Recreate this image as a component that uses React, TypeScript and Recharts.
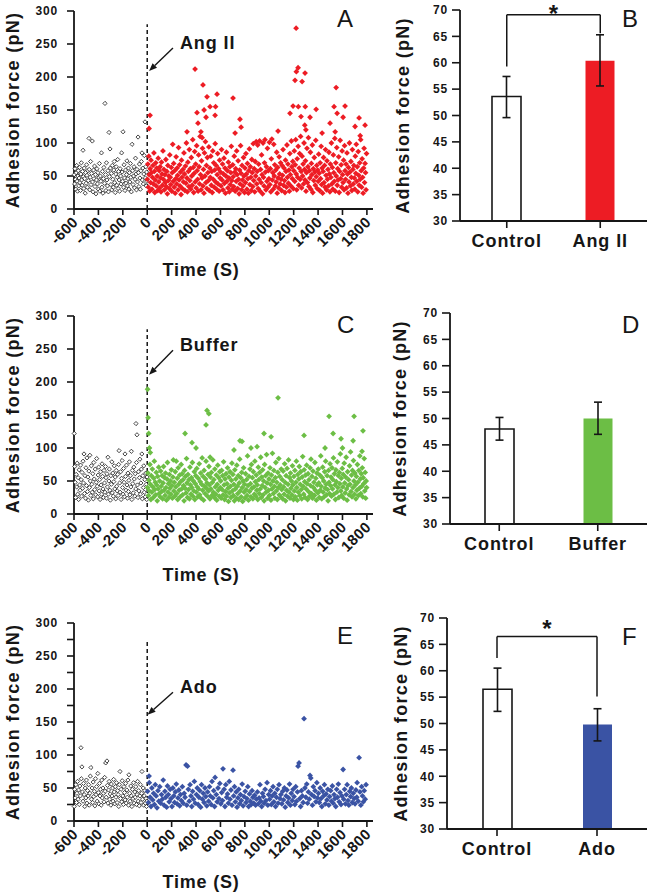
import {
  Bar,
  BarChart,
  Cell,
  ErrorBar,
  Label,
  ReferenceLine,
  Scatter,
  ScatterChart,
  XAxis,
  YAxis,
} from "recharts";

const FONT = '"Liberation Sans", Arial, sans-serif';
const INK = "#161616";

const timeTicks = [-600, -400, -200, 0, 200, 400, 600, 800, 1000, 1200, 1400, 1600, 1800];
const forceTicks = [0, 50, 100, 150, 200, 250, 300];
const forceTicksMinor = [0, 25, 50, 75, 100, 125, 150, 175, 200, 225, 250, 275, 300];
const barTicks = [30, 35, 40, 45, 50, 55, 60, 65, 70];

// ---- panel A: before / after Ang II (time s, force pN)
const angIIBefore: [number, number][] = [
  [-598,52],[-595,38],[-592,61],[-588,45],[-585,30],[-582,55],[-578,66],[-575,42],[-571,27],[-568,50],[-565,58],[-561,35],[-558,47],[-554,63],[-551,40],[-547,28],[-544,53],[-540,70],[-537,44],[-533,36],[-530,57],[-526,89],[-523,49],[-519,31],[-516,62],[-512,46],[-508,24],[-505,55],[-501,39],[-497,67],[-494,51],[-490,33],[-486,58],[-483,43],[-477,107],[-475,60],[-471,29],[-468,48],[-464,72],[-460,37],[-456,54],[-450,103],[-448,41],[-444,26],[-440,59],[-436,46],[-432,65],[-428,34],[-424,52],[-420,23],[-416,44],[-412,61],[-408,38],[-404,55],[-400,30],[-396,48],[-392,69],[-388,27],[-384,50],[-380,42],[-375,85],[-371,33],[-367,57],[-363,24],[-359,46],[-355,63],[-350,39],[-346,160],[-342,52],[-338,28],[-334,70],[-330,44],[-326,35],[-322,58],[-318,26],[-313,116],[-310,49],[-305,91],[-302,62],[-298,37],[-294,54],[-290,29],[-286,66],[-282,45],[-278,33],[-274,59],[-270,72],[-266,40],[-262,25],[-258,53],[-254,64],[-250,36],[-246,48],[-242,75],[-238,31],[-234,57],[-230,44],[-226,27],[-222,61],[-218,50],[-214,38],[-210,85],[-206,56],[-202,42],[-198,117],[-194,33],[-190,67],[-186,47],[-182,28],[-178,59],[-174,39],[-170,52],[-166,73],[-162,35],[-158,46],[-154,62],[-150,30],[-146,55],[-142,41],[-138,69],[-134,48],[-130,26],[-124,98],[-120,58],[-116,37],[-112,50],[-108,64],[-104,32],[-100,45],[-96,77],[-92,53],[-88,29],[-84,60],[-80,41],[-75,109],[-72,55],[-68,34],[-64,68],[-60,47],[-56,30],[-52,58],[-48,72],[-43,85],[-40,44],[-36,62],[-32,38],[-28,53],[-24,81],[-18,132],[-15,47],[-12,64],[-8,35],[-5,56],[-2,42],
];

const angIIAfter: [number, number][] = [
  [1,45],[5,68],[9,33],[13,80],[16,52],[20,27],[24,61],[28,40],[31,74],[35,55],[39,30],[43,48],[47,66],[51,38],[55,85],[58,57],[62,25],[66,44],[70,70],[74,35],[78,62],[82,50],[86,28],[90,77],[94,41],[98,58],
  [102,32],[106,64],[110,47],[113,26],[117,71],[121,53],[125,36],[129,88],[133,45],[137,60],[141,29],[145,52],[149,40],[153,75],[157,34],[161,57],[165,23],[169,66],[173,43],[177,50],[181,31],[185,82],[189,48],[193,37],[197,63],
  [201,27],[205,55],[209,98],[213,42],[217,69],[221,33],[225,58],[229,24],[233,46],[237,79],[241,38],[245,62],[249,51],[253,29],[257,93],[261,44],[265,67],[269,35],[273,56],[277,22],[281,74],[285,48],[289,31],[293,60],[297,41],
  [301,85],[305,53],[309,28],[313,65],[317,39],[321,100],[325,47],[329,26],[333,71],[337,57],[341,34],[345,90],[349,43],[353,61],[357,30],[361,78],[365,50],[369,36],[373,105],[377,63],[381,25],[385,54],[389,87],[393,41],[397,68],
  [401,32],[405,96],[409,58],[413,45],[417,27],[421,82],[425,64],[429,38],[433,110],[437,52],[441,29],[445,73],[449,47],[453,92],[457,35],[461,60],[465,24],[469,85],[473,50],[477,102],[481,40],[485,66],[489,31],[493,78],[497,55],
  [501,43],[505,94],[509,28],[513,62],[517,48],[521,80],[525,36],[529,57],[533,25],[537,88],[541,45],[545,70],[549,33],[553,59],[557,99],[561,41],[565,66],[569,30],[573,52],[577,84],[581,38],[585,61],[589,27],[593,74],[597,47],
  [601,56],[605,35],[609,90],[613,44],[617,68],[621,29],[625,53],[629,77],[633,39],[637,62],[641,24],[645,50],[649,86],[653,42],[657,58],[661,32],[665,71],[669,47],[673,26],[677,64],[681,37],[685,55],[689,95],[693,43],[697,30],
  [701,67],[705,49],[709,34],[713,80],[717,56],[721,27],[725,61],[729,42],[733,88],[737,52],[741,31],[745,73],[749,45],[753,23],[757,59],[761,38],[765,96],[769,54],[773,29],[777,66],[781,44],[785,35],[789,78],[793,50],[797,25],
  [801,62],[805,40],[809,84],[813,53],[817,30],[821,69],[825,46],[829,24],[833,58],[837,91],[841,37],[845,64],[849,48],[853,28],[857,75],[861,55],[865,34],[869,99],[873,43],[877,61],[881,26],[885,72],[889,50],[893,102],[897,38],
  [901,57],[905,97],[909,31],[913,68],[917,45],[921,103],[925,27],[929,60],[933,40],[937,82],[941,52],[945,23],[949,100],[953,48],[957,35],[961,70],[965,105],[969,56],[973,29],[977,64],[981,42],[985,92],[989,33],[993,58],[997,46],
  [1001,101],[1005,37],[1009,61],[1013,26],[1017,76],[1021,106],[1025,44],[1029,55],[1033,30],[1037,98],[1041,50],[1045,67],[1049,35],[1053,59],[1057,41],[1061,86],[1065,24],[1069,63],[1073,47],[1077,32],[1081,79],[1085,53],[1089,38],[1093,70],[1097,45],
  [1101,28],[1105,66],[1109,51],[1113,90],[1117,36],[1121,62],[1125,43],[1129,25],[1133,74],[1137,57],[1141,33],[1145,97],[1149,48],[1153,68],[1157,39],[1161,59],[1165,27],[1169,84],[1173,52],[1177,35],[1181,103],[1185,64],[1189,46],[1193,72],[1197,31],
  [1201,58],[1205,88],[1209,42],[1213,67],[1217,105],[1221,53],[1225,29],[1229,76],[1233,48],[1237,95],[1241,36],[1245,62],[1249,84],[1253,45],[1257,110],[1261,57],[1265,32],[1269,80],[1273,50],[1277,68],[1281,38],[1285,100],[1289,60],[1293,44],[1297,73],
  [1301,27],[1305,55],[1309,92],[1313,40],[1317,64],[1321,108],[1325,34],[1329,58],[1333,47],[1337,86],[1341,30],[1345,69],[1349,52],[1353,97],[1357,25],[1361,61],[1365,43],[1369,78],[1373,56],[1377,36],[1381,104],[1385,49],[1389,66],[1393,31],[1397,59],
  [1401,42],[1405,83],[1409,54],[1413,28],[1417,70],[1421,46],[1425,95],[1429,37],[1433,62],[1437,24],[1441,57],[1445,78],[1449,40],[1453,66],[1457,33],[1461,90],[1465,51],[1469,29],[1473,73],[1477,45],[1481,60],[1485,35],[1489,86],[1493,53],[1497,26],
  [1501,68],[1505,48],[1509,100],[1513,38],[1517,63],[1521,30],[1525,82],[1529,55],[1533,42],[1537,107],[1541,27],[1545,70],[1549,50],[1553,93],[1557,36],[1561,61],[1565,44],[1569,79],[1573,25],[1577,57],[1581,104],[1585,46],[1589,67],[1593,33],[1597,88],
  [1601,52],[1605,40],[1609,74],[1613,29],[1617,96],[1621,58],[1625,45],[1629,68],[1633,32],[1637,85],[1641,53],[1645,24],[1649,63],[1653,41],[1657,100],[1661,56],[1665,35],[1669,72],[1673,48],[1677,28],[1681,90],[1685,60],[1689,38],[1693,66],[1697,47],
  [1701,30],[1705,80],[1709,54],[1713,98],[1717,42],[1721,64],[1725,26],[1729,87],[1733,51],[1737,36],[1741,70],[1745,45],[1749,105],[1753,58],[1757,33],[1761,76],[1765,48],[1769,24],[1773,62],[1777,92],[1781,40],[1785,69],[1789,55],[1793,29],[1797,84],
  // high readings
  [15,122],[23,142],[326,117],[392,212],[408,146],[416,130],[440,117],[450,108],[457,188],[466,150],[482,139],[490,170],[515,155],[556,142],[560,155],[572,174],[703,168],[720,115],[760,136],[769,124],[1072,118],[1170,145],[1195,156],[1211,195],[1220,274],[1222,208],[1236,214],[1238,155],[1260,140],[1269,193],[1293,206],[1295,155],[1291,127],[1300,120],[1334,139],[1384,151],[1433,115],[1498,130],[1531,155],[1540,117],[1548,184],[1556,145],[1605,139],[1621,156],[1703,125],[1736,138],[1745,111],[1785,127],
];

// ---- panel C: before / after buffer
const bufferBefore: [number, number][] = [
  [-598,122],[-594,72],[-590,48],[-586,25],[-582,60],[-578,41],[-574,77],[-570,30],[-566,55],[-562,22],[-558,67],[-554,44],[-550,36],[-546,74],[-542,52],[-538,27],[-534,63],[-530,39],[-526,80],[-522,47],[-518,91],[-514,31],[-510,58],[-506,24],[-502,70],[-498,43],[-494,85],[-490,34],[-486,56],[-482,21],[-478,65],[-474,40],[-470,89],[-466,50],[-462,28],[-458,73],[-454,45],[-450,33],[-446,61],[-442,23],[-438,78],[-434,53],[-430,37],[-426,68],[-422,29],[-418,48],[-414,84],[-410,42],[-406,26],[-402,59],[-398,71],[-394,35],[-390,52],[-386,22],[-382,64],[-378,44],[-374,30],[-370,76],[-366,57],[-362,38],[-358,25],[-354,66],[-350,47],[-346,33],[-342,72],[-338,55],[-334,24],[-330,61],[-326,41],[-322,86],[-318,30],[-314,50],[-310,68],[-306,36],[-302,21],[-298,58],[-294,45],[-290,79],[-286,32],[-282,62],[-278,27],[-274,49],[-270,73],[-266,38],[-262,56],[-258,23],[-254,66],[-250,42],[-246,35],[-242,60],[-238,28],[-234,75],[-231,96],[-226,47],[-222,33],[-218,64],[-214,22],[-210,54],[-206,81],[-202,40],[-198,30],[-194,69],[-190,48],[-186,26],[-182,91],[-178,57],[-174,36],[-170,74],[-166,44],[-162,24],[-158,62],[-154,34],[-150,51],[-146,79],[-142,29],[-138,58],[-134,41],[-130,95],[-126,22],[-122,66],[-118,46],[-114,32],[-110,71],[-106,53],[-102,27],[-98,61],[-94,38],[-92,137],[-88,78],[-84,120],[-80,44],[-76,25],[-72,64],[-68,35],[-64,55],[-60,83],[-56,30],[-52,47],[-48,68],[-44,91],[-40,23],[-36,58],[-32,40],[-28,73],[-24,33],[-20,52],[-16,26],[-12,62],[-8,45],[-4,22],[-1,56],
];

const bufferAfter: [number, number][] = [
  [2,40],[6,62],[10,28],[14,51],[18,35],[22,75],[26,45],[30,22],[34,58],[38,33],[42,68],[46,41],[50,25],[54,54],[58,80],[62,37],[66,48],[70,29],[74,63],[78,44],[82,20],[86,57],[90,38],[94,71],[98,31],
  [102,50],[106,26],[110,65],[114,42],[118,34],[122,58],[126,23],[130,47],[134,72],[138,36],[142,55],[146,28],[150,62],[154,40],[158,21],[162,53],[166,78],[170,33],[174,46],[178,25],[182,60],[186,39],[190,50],[194,30],[198,67],
  [202,43],[206,24],[210,56],[214,82],[218,35],[222,48],[226,27],[230,64],[234,41],[238,80],[242,31],[246,54],[250,22],[254,70],[258,45],[262,36],[266,59],[270,26],[274,49],[278,75],[282,38],[286,61],[290,29],[294,52],[298,43],
  [302,20],[306,66],[310,39],[314,57],[318,32],[322,84],[326,47],[330,25],[334,60],[338,37],[342,52],[346,23],[350,71],[354,44],[358,30],[362,55],[366,40],[370,78],[374,27],[378,50],[382,35],[386,64],[390,22],[394,46],[398,58],
  [402,33],[406,69],[410,41],[414,26],[418,54],[422,38],[426,76],[430,29],[434,49],[438,62],[442,24],[446,45],[450,85],[454,36],[458,57],[462,21],[466,66],[470,42],[474,31],[478,53],[482,80],[486,39],[490,47],[494,27],[498,60],
  [502,35],[506,72],[510,44],[514,23],[518,56],[522,38],[526,63],[530,28],[534,48],[538,82],[542,33],[546,52],[550,25],[554,68],[558,41],[562,30],[566,59],[570,21],[574,45],[578,74],[582,36],[586,55],[590,27],[594,64],[598,40],
  [602,50],[606,24],[610,66],[614,37],[618,58],[622,29],[626,79],[630,44],[634,22],[638,53],[642,34],[646,61],[650,27],[654,46],[658,70],[662,39],[666,19],[670,56],[674,32],[678,64],[682,42],[686,25],[690,51],[694,77],[698,35],
  [702,60],[706,28],[710,45],[714,20],[718,67],[722,38],[726,53],[730,24],[734,74],[738,42],[742,31],[746,58],[750,22],[754,47],[758,83],[762,35],[766,55],[770,26],[774,63],[778,40],[782,19],[786,50],[790,70],[794,33],[798,45],
  [802,24],[806,61],[810,37],[814,52],[818,28],[822,88],[826,43],[830,21],[834,57],[838,34],[842,68],[846,46],[850,26],[854,75],[858,39],[862,55],[866,23],[870,64],[874,41],[878,30],[882,80],[886,49],[890,27],[894,59],[898,36],
  [902,44],[906,22],[910,71],[914,52],[918,31],[922,63],[926,38],[930,86],[934,25],[938,56],[942,43],[946,67],[950,29],[954,50],[958,20],[962,75],[966,40],[970,58],[974,33],[978,90],[982,47],[986,24],[990,62],[994,36],[998,53],
  [1002,28],[1006,70],[1010,45],[1014,21],[1018,59],[1022,38],[1026,92],[1030,50],[1034,31],[1038,66],[1042,42],[1046,24],[1050,55],[1054,78],[1058,35],[1062,48],[1066,22],[1070,63],[1074,40],[1078,84],[1082,29],[1086,57],[1090,44],[1094,26],[1098,68],
  [1102,37],[1106,52],[1110,23],[1114,65],[1118,41],[1122,30],[1126,76],[1130,48],[1134,20],[1138,58],[1142,36],[1146,69],[1150,27],[1154,45],[1158,82],[1162,33],[1166,55],[1170,24],[1174,62],[1178,39],[1182,50],[1186,29],[1190,73],[1194,44],[1198,22],
  [1202,57],[1206,35],[1210,66],[1214,26],[1218,48],[1222,80],[1226,40],[1230,21],[1234,60],[1238,33],[1242,53],[1246,72],[1250,28],[1254,45],[1258,64],[1262,37],[1266,23],[1270,56],[1274,87],[1278,42],[1282,30],[1286,67],[1290,49],[1294,25],[1298,59],
  [1302,38],[1306,74],[1310,46],[1314,22],[1318,61],[1322,34],[1326,52],[1330,27],[1334,70],[1338,43],[1342,83],[1346,31],[1350,57],[1354,24],[1358,65],[1362,40],[1366,48],[1370,28],[1374,78],[1378,36],[1382,54],[1386,21],[1390,62],[1394,44],[1398,32],
  [1402,68],[1406,47],[1410,25],[1414,59],[1418,36],[1422,88],[1426,42],[1430,23],[1434,55],[1438,71],[1442,33],[1446,50],[1450,26],[1454,64],[1458,39],[1462,80],[1466,45],[1470,29],[1474,58],[1478,37],[1482,20],[1486,66],[1490,48],[1494,31],[1498,76],
  [1502,43],[1506,56],[1510,27],[1514,70],[1518,38],[1522,52],[1526,85],[1530,30],[1534,61],[1538,44],[1542,22],[1546,67],[1550,49],[1554,33],[1558,79],[1562,40],[1566,58],[1570,25],[1574,63],[1578,46],[1582,91],[1586,35],[1590,54],[1594,28],[1598,69],
  [1602,41],[1606,60],[1610,24],[1614,77],[1618,47],[1622,32],[1626,56],[1630,86],[1634,38],[1638,21],[1642,64],[1646,43],[1650,52],[1654,29],[1658,73],[1662,45],[1666,94],[1670,34],[1674,59],[1678,26],[1682,66],[1686,40],[1690,81],[1694,50],[1698,30],
  [1702,62],[1706,44],[1710,23],[1714,57],[1718,36],[1722,75],[1726,48],[1730,28],[1734,66],[1738,39],[1742,88],[1746,53],[1750,31],[1754,61],[1758,42],[1762,70],[1766,26],[1770,55],[1774,46],[1778,84],[1782,35],[1786,63],[1790,24],[1794,50],[1798,40],
  // high readings
  [3,189],[7,146],[12,122],[18,100],[25,93],[310,122],[367,108],[400,100],[482,135],[490,157],[505,152],[515,86],[711,97],[760,111],[777,110],[850,100],[900,102],[957,122],[1015,117],[1072,176],[1285,119],[1457,100],[1490,148],[1523,122],[1588,114],[1600,100],[1687,111],[1695,148],[1768,126],[1760,95],
];

// ---- panel E: before / after Ado
const adoBefore: [number, number][] = [
  [-598,22],[-594,48],[-590,35],[-585,55],[-580,28],[-576,42],[-571,60],[-566,33],[-562,47],[-557,25],[-552,53],[-548,38],[-543,111],[-540,64],[-535,82],[-531,44],[-526,30],[-522,57],[-517,40],[-512,22],[-508,50],[-503,35],[-498,62],[-494,27],[-489,46],[-484,38],[-480,55],[-475,24],[-470,42],[-466,68],[-461,81],[-457,33],[-452,50],[-447,28],[-443,59],[-438,37],[-433,45],[-429,23],[-424,64],[-419,40],[-415,52],[-410,30],[-405,72],[-401,43],[-396,26],[-391,57],[-387,38],[-382,48],[-377,24],[-373,62],[-368,35],[-363,50],[-359,42],[-354,29],[-349,66],[-345,45],[-340,88],[-336,36],[-330,91],[-326,54],[-322,27],[-317,47],[-312,60],[-308,33],[-303,41],[-298,24],[-294,56],[-289,38],[-284,50],[-280,30],[-275,63],[-270,44],[-266,26],[-261,52],[-256,36],[-252,58],[-247,28],[-242,46],[-238,40],[-233,22],[-228,55],[-223,75],[-219,34],[-214,48],[-209,29],[-205,61],[-200,38],[-195,25],[-191,52],[-186,43],[-181,32],[-177,57],[-172,27],[-167,47],[-163,36],[-158,62],[-153,24],[-150,70],[-144,42],[-140,30],[-135,53],[-130,38],[-126,22],[-121,48],[-116,34],[-112,58],[-107,27],[-102,44],[-98,36],[-93,52],[-88,25],[-84,40],[-79,60],[-74,30],[-70,46],[-65,23],[-60,38],[-56,55],[-51,28],[-46,42],[-43,75],[-38,33],[-33,50],[-29,24],[-24,38],[-19,46],[-15,27],[-10,34],[-6,22],[-2,30],
];

const adoAfter: [number, number][] = [
  [3,45],[10,28],[15,68],[17,58],[24,36],[31,22],[38,50],[45,32],[52,42],[59,25],[66,55],[73,38],[80,20],[88,46],[95,30],
  [103,52],[110,27],[117,40],[124,33],[131,62],[138,24],[145,45],[152,36],[159,21],[166,53],[173,40],[180,29],[188,48],[195,34],
  [203,22],[210,50],[217,38],[224,28],[231,44],[238,56],[245,26],[252,35],[259,47],[266,23],[273,40],[280,31],[288,52],[295,27],
  [303,42],[310,36],[318,85],[324,24],[330,83],[337,48],[344,30],[351,55],[358,38],[365,22],[372,45],[379,33],[386,60],[393,27],
  [403,40],[410,50],[417,25],[424,36],[431,46],[438,21],[445,55],[452,33],[459,42],[466,28],[473,50],[480,37],[488,23],[495,44],
  [503,30],[510,52],[517,38],[524,25],[531,60],[538,35],[545,46],[552,22],[556,66],[566,40],[573,29],[580,50],[588,34],[595,57],
  [603,26],[610,43],[617,31],[621,79],[630,48],[637,22],[644,55],[651,36],[658,41],[665,27],[672,60],[679,33],[686,47],[695,24],
  [703,77],[708,38],[715,52],[722,29],[729,44],[736,21],[743,35],[750,48],[757,26],[764,40],[771,31],[778,56],[786,23],[793,37],
  [803,45],[810,28],[817,34],[824,52],[831,22],[838,41],[845,30],[852,25],[859,46],[866,36],[873,27],[880,39],[888,24],[895,33],
  [903,44],[910,26],[917,35],[924,55],[931,30],[938,22],[945,42],[952,37],[959,27],[966,48],[973,31],[982,58],[988,24],[995,40],
  [1003,33],[1010,46],[1017,25],[1024,38],[1031,52],[1038,29],[1045,42],[1052,22],[1059,36],[1066,48],[1073,27],[1080,55],[1088,34],[1095,40],
  [1103,26],[1110,45],[1117,32],[1124,50],[1131,21],[1138,38],[1145,47],[1152,28],[1159,35],[1166,56],[1173,24],[1180,42],[1188,31],[1195,48],
  [1203,37],[1210,25],[1217,52],[1224,30],[1231,44],[1236,83],[1244,88],[1250,34],[1257,22],[1264,46],[1271,38],[1278,28],[1285,155],[1292,50],
  [1300,36],[1307,56],[1314,27],[1321,44],[1328,33],[1334,69],[1340,65],[1347,40],[1354,24],[1361,52],[1368,37],[1375,46],[1382,29],[1390,58],[1396,35],
  [1403,42],[1410,28],[1417,50],[1424,34],[1431,22],[1438,45],[1445,38],[1452,55],[1459,26],[1466,41],[1473,32],[1480,48],[1488,24],[1495,37],
  [1503,46],[1510,30],[1517,53],[1524,27],[1531,40],[1538,34],[1545,22],[1552,48],[1559,36],[1566,56],[1573,29],[1580,43],[1588,25],[1595,38],
  [1605,78],[1610,33],[1617,48],[1624,26],[1631,40],[1638,55],[1645,31],[1652,24],[1659,45],[1666,37],[1673,50],[1680,28],[1688,42],[1695,34],
  [1703,26],[1710,47],[1717,36],[1720,58],[1729,30],[1736,96],[1743,44],[1750,24],[1757,52],[1764,38],[1771,29],[1778,46],[1786,33],[1793,55],
];

// ---- bar panels: mean and [down, up] error
const angIIGroups = ["Control", "Ang II"];
const angIIMeans = [53.6, 60.4];
const angIIErrors: [number, number][] = [[4.0, 3.8], [4.8, 4.9]];

const bufferGroups = ["Control", "Buffer"];
const bufferMeans = [48.0, 50.0];
const bufferErrors: [number, number][] = [[2.1, 2.2], [3.0, 3.1]];

const adoGroups = ["Control", "Ado"];
const adoMeans = [56.5, 49.8];
const adoErrors: [number, number][] = [[4.2, 4.0], [3.1, 3.0]];

// significance brackets: [left leg start, top, right leg end]
const angIIBracket = [59.3, 69.1, 65.6];
const adoBracket = [62.4, 66.5, 55.1];

const RED = "#ED1C24";
const GREEN = "#6CBE45";
const BLUE = "#3A53A4";

const bold = { fontFamily: FONT, fontWeight: 700, fill: INK } as const;

function toPoints(rows: [number, number][]) {
  return rows.map(([t, f]) => ({ t, f }));
}

const filledDiamond = (color: string) => (p: any) => {
  const r = 2.9;
  return (
    <polygon
      points={`${p.cx},${p.cy - r} ${p.cx + r},${p.cy} ${p.cx},${p.cy + r} ${p.cx - r},${p.cy}`}
      fill={color}
    />
  );
};

const openDiamond = (p: any) => {
  const r = 2.1;
  return (
    <polygon
      points={`${p.cx},${p.cy - r} ${p.cx + r},${p.cy} ${p.cx},${p.cy + r} ${p.cx - r},${p.cy}`}
      fill="#fff"
      stroke={INK}
      strokeWidth={0.8}
    />
  );
};

function TimeTick({ x, y, payload }: any) {
  const ax = x + 5;
  const ay = y + 6;
  return (
    <text
      x={ax}
      y={ay}
      transform={`rotate(-45 ${ax} ${ay})`}
      textAnchor="end"
      fontSize={15}
      style={{ letterSpacing: 0.4 }}
      {...bold}
    >
      {payload.value}
    </text>
  );
}

const ValueTick =
  (showEvery: number) =>
  ({ x, y, payload }: any) =>
    payload.value % showEvery === 0 ? (
      <text x={x} y={y} dy="0.36em" textAnchor="end" fontSize={12} style={{ letterSpacing: 0.8 }} {...bold}>
        {payload.value}
      </text>
    ) : (
      <g />
    );

function GroupTick({ x, y, payload }: any) {
  return (
    <text x={x} y={y + 17} textAnchor="middle" fontSize={18} style={{ letterSpacing: 0.9 }} {...bold}>
      {payload.value}
    </text>
  );
}

const forceLabel = (dx: number) => (props: any) => {
  const vb = props.viewBox ?? { x: 0, y: 0, width: 0, height: 0 };
  const x = vb.x + dx;
  const y = vb.y + vb.height / 2;
  return (
    <text
      x={x}
      y={y}
      transform={`rotate(-90 ${x} ${y})`}
      textAnchor="middle"
      fontSize={18}
      style={{ letterSpacing: 1.3 }}
      {...bold}
    >
      Adhesion force (pN)
    </text>
  );
};

const timeLabel = (props: any) => {
  const vb = props.viewBox ?? { x: 0, y: 0, width: 0, height: 0 };
  return (
    <text x={vb.x + 127} y={vb.y + 67} textAnchor="middle" fontSize={18} style={{ letterSpacing: 0.8 }} {...bold}>
      Time (S)
    </text>
  );
};

const arrowWithText = (text: string) => (p: any) => {
  const { x1, y1, x2, y2 } = p;
  const a = Math.atan2(y2 - y1, x2 - x1);
  const len = 8;
  const half = 3.2;
  const bx = x2 - len * Math.cos(a);
  const by = y2 - len * Math.sin(a);
  const nx = -Math.sin(a) * half;
  const ny = Math.cos(a) * half;
  return (
    <g>
      <line x1={x1} y1={y1} x2={bx} y2={by} stroke={INK} strokeWidth={1.4} />
      <polygon points={`${x2},${y2} ${bx + nx},${by + ny} ${bx - nx},${by - ny}`} fill={INK} />
      <text x={x1 + 7} y={y1 + 1} fontSize={18} style={{ letterSpacing: 0.9 }} {...bold}>
        {text}
      </text>
    </g>
  );
};

const starLine = (dy: number) => (p: any) => (
  <g>
    <line x1={p.x1} y1={p.y1} x2={p.x2} y2={p.y2} stroke={INK} strokeWidth={1.5} />
    <text x={(p.x1 + p.x2) / 2} y={p.y1 + dy} textAnchor="middle" fontSize={24} {...bold}>
      *
    </text>
  </g>
);

interface ScatterPanelProps {
  top: number;
  before: [number, number][];
  after: [number, number][];
  color: string;
  name: string;
  arrowFrom: [number, number];
  arrowTo: [number, number];
  dashTop: number;
  minor?: boolean;
}

function ScatterPanel({ top, before, after, color, name, arrowFrom, arrowTo, dashTop, minor }: ScatterPanelProps) {
  return (
    <div style={{ position: "absolute", left: 0, top }}>
      <ScatterChart width={380} height={290} margin={{ top: 11, right: 7, bottom: 11, left: 14 }}>
        <XAxis
          type="number"
          dataKey="t"
          domain={[-600, 1850]}
          ticks={timeTicks}
          interval={0}
          height={70}
          tickSize={6}
          tick={<TimeTick />}
          axisLine={{ stroke: INK, strokeWidth: 1.8 }}
          tickLine={{ stroke: INK, strokeWidth: 1.6 }}
        >
          <Label content={timeLabel} />
        </XAxis>
        <YAxis
          type="number"
          dataKey="f"
          domain={[0, 300]}
          ticks={minor ? forceTicksMinor : forceTicks}
          interval={0}
          width={60}
          tickSize={7}
          tickMargin={9}
          tick={ValueTick(50)}
          axisLine={{ stroke: INK, strokeWidth: 1.8 }}
          tickLine={{ stroke: INK, strokeWidth: 1.6 }}
        >
          <Label content={forceLabel(5)} />
        </YAxis>
        <Scatter data={toPoints(before)} shape={openDiamond} isAnimationActive={false} />
        <Scatter data={toPoints(after)} shape={filledDiamond(color)} isAnimationActive={false} />
        <ReferenceLine
          segment={[{ x: 0, y: 0 }, { x: 0, y: dashTop }]}
          stroke={INK}
          strokeWidth={1.5}
          strokeDasharray="4 3"
        />
        <ReferenceLine
          segment={[
            { x: arrowFrom[0], y: arrowFrom[1] },
            { x: arrowTo[0], y: arrowTo[1] },
          ]}
          shape={arrowWithText(name)}
        />
      </ScatterChart>
    </div>
  );
}

interface BarPanelProps {
  top: number;
  axisWidth: number;
  labelDx: number;
  groups: string[];
  means: number[];
  errors: [number, number][];
  color: string;
  bracket?: number[];
  starDy?: number;
}

function BarPanel({ top, axisWidth, labelDx, groups, means, errors, color, bracket, starDy = 0 }: BarPanelProps) {
  const rows = groups.map((name, i) => ({ name, mean: means[i], err: errors[i] }));
  return (
    <div style={{ position: "absolute", left: 360, top }}>
      <BarChart width={287} height={290} data={rows} margin={{ top: 10, right: 0, bottom: 0, left: 0 }}>
        <XAxis
          dataKey="name"
          height={69}
          tickSize={7}
          tick={<GroupTick />}
          axisLine={{ stroke: INK, strokeWidth: 1.8 }}
          tickLine={{ stroke: INK, strokeWidth: 1.6 }}
        />
        <YAxis
          type="number"
          domain={[30, 70]}
          ticks={barTicks}
          interval={0}
          allowDataOverflow
          width={axisWidth}
          tickSize={8}
          tickMargin={4}
          tick={ValueTick(5)}
          axisLine={{ stroke: INK, strokeWidth: 1.8 }}
          tickLine={{ stroke: INK, strokeWidth: 1.6 }}
        >
          <Label content={forceLabel(labelDx)} />
        </YAxis>
        <Bar dataKey="mean" barSize={29} isAnimationActive={false}>
          {rows.map((r, i) => (
            <Cell
              key={r.name}
              fill={i === 0 ? "#ffffff" : color}
              stroke={i === 0 ? INK : "none"}
              strokeWidth={i === 0 ? 1.6 : 0}
            />
          ))}
          <ErrorBar dataKey="err" width={4} stroke={INK} strokeWidth={1.6} isAnimationActive={false} />
        </Bar>
        {bracket && (
          <ReferenceLine
            segment={[{ x: groups[0], y: bracket[0] }, { x: groups[0], y: bracket[1] }]}
            stroke={INK}
            strokeWidth={1.5}
          />
        )}
        {bracket && (
          <ReferenceLine
            segment={[{ x: groups[0], y: bracket[1] }, { x: groups[1], y: bracket[1] }]}
            shape={starLine(starDy)}
          />
        )}
        {bracket && (
          <ReferenceLine
            segment={[{ x: groups[1], y: bracket[1] }, { x: groups[1], y: bracket[2] }]}
            stroke={INK}
            strokeWidth={1.5}
          />
        )}
      </BarChart>
    </div>
  );
}

const letterStyle = {
  position: "absolute" as const,
  fontFamily: FONT,
  fontSize: 24,
  lineHeight: "24px",
  color: INK,
};

export default function App() {
  return (
    <div
      style={{
        position: "absolute",
        left: 0,
        top: 0,
        width: 647,
        height: 892,
        overflow: "hidden",
        background: "#fff",
      }}
    >
      <ScatterPanel
        top={0}
        before={angIIBefore}
        after={angIIAfter}
        color={RED}
        name="Ang II"
        arrowFrom={[211, 244]}
        arrowTo={[15, 209]}
        dashTop={280}
      />
      <ScatterPanel
        top={305}
        before={bufferBefore}
        after={bufferAfter}
        color={GREEN}
        name="Buffer"
        arrowFrom={[211, 248]}
        arrowTo={[15, 211]}
        dashTop={280}
      />
      <ScatterPanel
        top={612}
        before={adoBefore}
        after={adoAfter}
        color={BLUE}
        name="Ado"
        arrowFrom={[211, 195]}
        arrowTo={[3, 161]}
        dashTop={274}
        minor
      />
      <BarPanel
        top={0}
        axisWidth={100}
        labelDx={49}
        groups={angIIGroups}
        means={angIIMeans}
        errors={angIIErrors}
        color={RED}
        bracket={angIIBracket}
        starDy={7}
      />
      <BarPanel
        top={303}
        axisWidth={90}
        labelDx={46}
        groups={bufferGroups}
        means={bufferMeans}
        errors={bufferErrors}
        color={GREEN}
      />
      <BarPanel
        top={608}
        axisWidth={87}
        labelDx={47}
        groups={adoGroups}
        means={adoMeans}
        errors={adoErrors}
        color={BLUE}
        bracket={adoBracket}
        starDy={1}
      />
      <div style={{ ...letterStyle, left: 337, top: 7 }}>A</div>
      <div style={{ ...letterStyle, left: 622, top: 7 }}>B</div>
      <div style={{ ...letterStyle, left: 337, top: 313 }}>C</div>
      <div style={{ ...letterStyle, left: 622, top: 313 }}>D</div>
      <div style={{ ...letterStyle, left: 337, top: 624 }}>E</div>
      <div style={{ ...letterStyle, left: 622, top: 625 }}>F</div>
    </div>
  );
}
